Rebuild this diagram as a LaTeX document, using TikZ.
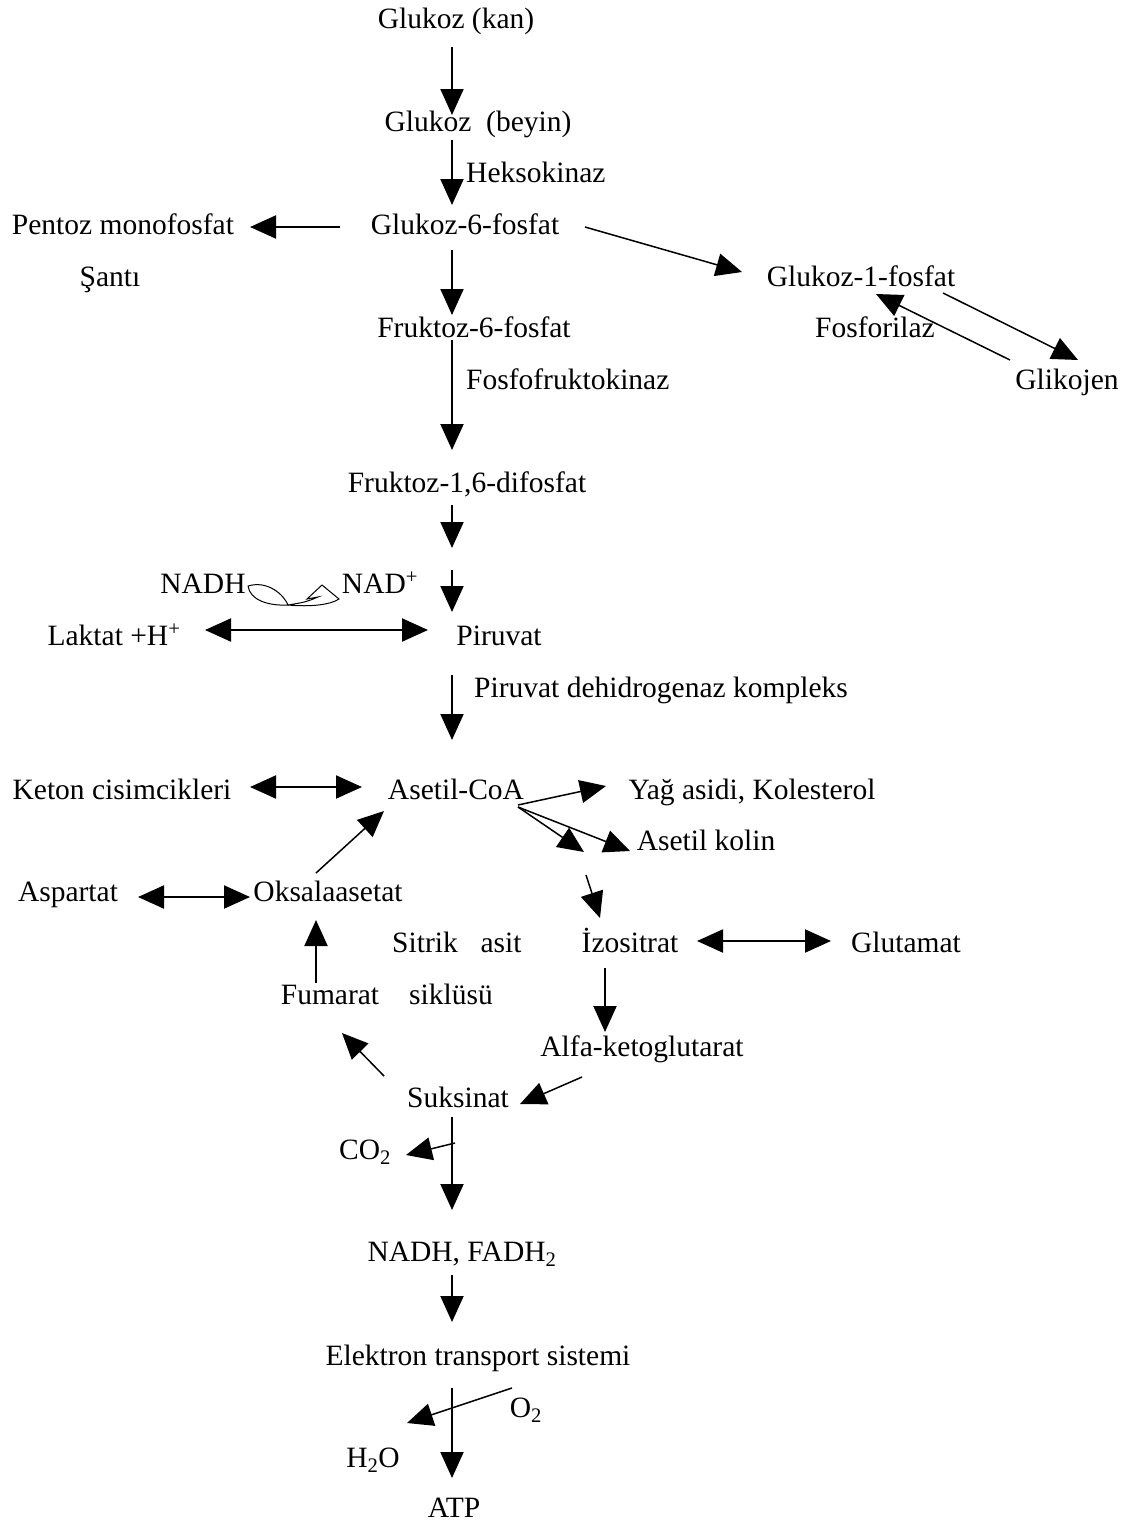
\documentclass[tikz,border=0pt]{standalone}
\usepackage{fontspec}
\setmainfont{Liberation Serif}
\usetikzlibrary{arrows.meta}
\begin{document}
\begin{tikzpicture}[x=1pt,y=-1pt,
  lbl/.style={anchor=base, inner sep=0pt, font=\fontsize{29.5}{34}\selectfont},
  arr/.style={line width=2pt, -{Triangle[length=26pt,width=23pt]}},
  darr/.style={line width=2pt, {Triangle[length=26pt,width=23pt]}-{Triangle[length=26pt,width=23pt]}},
  thin/.style={line width=1pt}]
\useasboundingbox (0,0) rectangle (1128,1528);
% labels
\node[lbl] (gkan) at (456,29) {Glukoz (kan)};
\node[lbl] (gbeyin) at (478,131) {Glukoz\ \ (beyin)};
\node[lbl,anchor=base west] (hek) at (466,182) {Heksokinaz};
\node[lbl] (g6p) at (465,234) {Glukoz-6-fosfat};
\node[lbl] (pentoz) at (123,234) {Pentoz monofosfat};
\node[lbl] (santi) at (110,286) {Şantı};
\node[lbl] (g1p) at (861,286) {Glukoz-1-fosfat};
\node[lbl] (fosforilaz) at (875,337) {Fosforilaz};
\node[lbl] (glikojen) at (1067,389) {Glikojen};
\node[lbl] (f6p) at (474,337) {Fruktoz-6-fosfat};
\node[lbl,anchor=base west] (pfk) at (466,389) {Fosfofruktokinaz};
\node[lbl] (f16) at (467,492) {Fruktoz-1,6-difosfat};
\node[lbl] (nadh) at (203,593) {NADH};
\node[lbl] (nad) at (380,593) {NAD\textsuperscript{+}};
\node[lbl] (laktat) at (114,645) {Laktat +H\textsuperscript{+}};
\node[lbl] (piruvat) at (499,645) {Piruvat};
\node[lbl,anchor=base west] (pdh) at (474,697) {Piruvat dehidrogenaz kompleks};
\node[lbl] (acoa) at (456,799) {Asetil-CoA};
\node[lbl] (keton) at (122,799) {Keton cisimcikleri};
\node[lbl] (yag) at (752,799) {Yağ asidi, Kolesterol};
\node[lbl] (kolin) at (706,850) {Asetil kolin};
\node[lbl] (oksala) at (328,901) {Oksalaasetat};
\node[lbl] (aspartat) at (68,901) {Aspartat};
\node[lbl] (sitrik) at (425,952) {Sitrik};
\node[lbl] (asit) at (501,952) {asit};
\node[lbl] (izo) at (630,952) {İzositrat};
\node[lbl] (glutamat) at (906,952) {Glutamat};
\node[lbl] (fumarat) at (330,1004) {Fumarat};
\node[lbl] (siklusu) at (451,1004) {siklüsü};
\node[lbl] (akg) at (642,1056) {Alfa-ketoglutarat};
\node[lbl] (suksinat) at (458,1107) {Suksinat};
\node[lbl] (co2) at (365,1159) {CO\textsubscript{2}};
\node[lbl] (nadhf) at (462,1261) {NADH, FADH\textsubscript{2}};
\node[lbl] (ets) at (478,1365) {Elektron transport sistemi};
\node[lbl] (o2) at (526,1417) {O\textsubscript{2}};
\node[lbl] (h2o) at (373,1467) {H\textsubscript{2}O};
\node[lbl] (atp) at (454,1517) {ATP};
% connector end points
\coordinate (c1a) at (452,47);   \coordinate (c1b) at (452,115);
\coordinate (c2a) at (452,140);  \coordinate (c2b) at (452,205);
\coordinate (c3a) at (340,227);  \coordinate (c3b) at (250,227);
\coordinate (c4a) at (585,227);  \coordinate (c4b) at (742,272);
\coordinate (c5a) at (943,293);  \coordinate (c5b) at (1078,360);
\coordinate (c6a) at (1010,360); \coordinate (c6b) at (876,294);
\coordinate (c7a) at (452,250);  \coordinate (c7b) at (452,315);
\coordinate (c8a) at (452,340);  \coordinate (c8b) at (452,450);
\coordinate (c9a) at (452,505);  \coordinate (c9b) at (452,548);
\coordinate (c10a) at (452,570); \coordinate (c10b) at (452,612);
\coordinate (c11a) at (205,630); \coordinate (c11b) at (428,630);
\coordinate (c12a) at (452,675); \coordinate (c12b) at (452,740);
\coordinate (c13a) at (250,787); \coordinate (c13b) at (362,787);
\coordinate (c14a) at (518,805); \coordinate (c14b) at (606,786);
\coordinate (c15a) at (518,807); \coordinate (c15b) at (584,852);
\coordinate (c16b) at (630,851);
\coordinate (c17a) at (586,875); \coordinate (c17b) at (600,918);
\coordinate (c18a) at (138,897); \coordinate (c18b) at (250,897);
\coordinate (c19a) at (316,873); \coordinate (c19b) at (384,811);
\coordinate (c20a) at (697,941); \coordinate (c20b) at (831,941);
\coordinate (c21a) at (316,983); \coordinate (c21b) at (316,920);
\coordinate (c22a) at (605,968); \coordinate (c22b) at (605,1032);
\coordinate (c23a) at (582,1077);\coordinate (c23b) at (520,1104);
\coordinate (c24a) at (384,1076);\coordinate (c24b) at (342,1033);
\coordinate (c25a) at (452,1117);\coordinate (c25b) at (452,1210);
\coordinate (c26a) at (455,1143);\coordinate (c26b) at (406,1155);
\coordinate (c27a) at (452,1275);\coordinate (c27b) at (452,1322);
\coordinate (c28a) at (452,1388);\coordinate (c28b) at (452,1478);
\coordinate (c29a) at (512,1388);\coordinate (c29b) at (407,1423);
% connectors
\draw[arr] (c1a) -- (c1b);
\draw[arr] (c2a) -- (c2b);
\draw[arr] (c3a) -- (c3b);
\draw[arr,line width=1.5pt] (c4a) -- (c4b);
\draw[arr,line width=1.5pt] (c5a) -- (c5b);
\draw[arr,line width=1.5pt] (c6a) -- (c6b);
\draw[arr] (c7a) -- (c7b);
\draw[arr] (c8a) -- (c8b);
\draw[arr] (c9a) -- (c9b);
\draw[arr] (c10a) -- (c10b);
\draw[darr] (c11a) -- (c11b);
\draw[arr] (c12a) -- (c12b);
\draw[darr] (c13a) -- (c13b);
\draw[arr,line width=1.5pt] (c14a) -- (c14b);
\draw[arr,line width=1.5pt] (c15a) -- (c15b);
\draw[arr,line width=1.5pt] (c15a) -- (c16b);
\draw[arr,line width=1.5pt] (c17a) -- (c17b);
\draw[darr] (c18a) -- (c18b);
\draw[arr,line width=1.5pt] (c19a) -- (c19b);
\draw[darr] (c20a) -- (c20b);
\draw[arr] (c21a) -- (c21b);
\draw[arr] (c22a) -- (c22b);
\draw[arr,line width=1.5pt] (c23a) -- (c23b);
\draw[arr,line width=1.5pt] (c24a) -- (c24b);
\draw[arr] (c25a) -- (c25b);
\draw[arr,line width=1.5pt] (c26a) -- (c26b);
\draw[arr] (c27a) -- (c27b);
\draw[arr] (c28a) -- (c28b);
\draw[arr,line width=1.5pt] (c29a) -- (c29b);
% NADH / NAD+ loop
\coordinate (lp) at (288,605);
\draw[thin] (248,586) .. controls (268,580) and (284,595) .. (lp)
  .. controls (268,606) and (250,600) .. (248,586);
\draw[thin] (lp) .. controls (310,607) and (330,605) .. (339,599)
  -- (322,585) -- (307,599) -- (318,597) .. controls (306,602) .. (lp);
\end{tikzpicture}
\end{document}
